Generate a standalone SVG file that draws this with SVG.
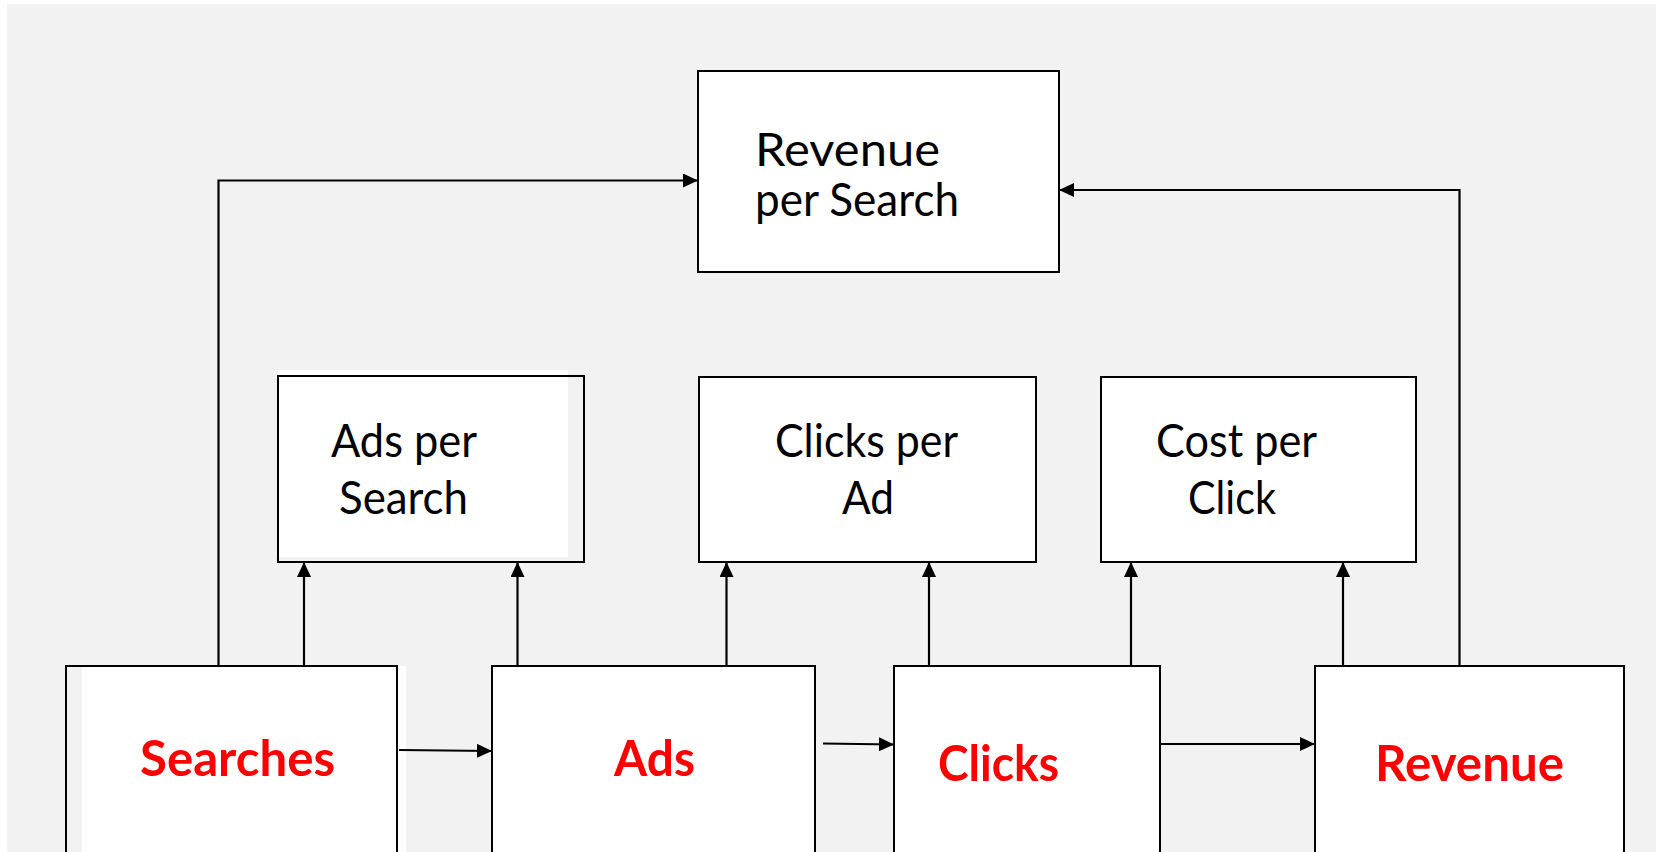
<svg xmlns="http://www.w3.org/2000/svg" width="1656" height="852" viewBox="0 0 1656 852">
  <style>
    .box { fill: #ffffff; stroke: #000000; stroke-width: 2; }
    .frame { fill: none; stroke: #000000; stroke-width: 2; }
    .link { fill: none; stroke: #000000; stroke-width: 2.2; marker-end: url(#arrow); }
    .label { font-family: Lato, "Open Sans", sans-serif; font-size: 46px; fill: #000000; }
    .key { font-family: Lato, "Open Sans", sans-serif; font-size: 50px; font-weight: bold; fill: #ff0000; }
  </style>
  <defs>
    <marker id="arrow" markerUnits="userSpaceOnUse" markerWidth="16" markerHeight="14" refX="15" refY="7" orient="auto">
      <path d="M0,0 L15,7 L0,14 Z" fill="#000000"/>
    </marker>
  </defs>

  <!-- canvas -->
  <rect x="0" y="0" width="1656" height="852" fill="#ffffff"/>
  <rect x="7" y="4" width="1649" height="848" fill="#f2f2f2"/>

  <!-- top-level ratio -->
  <g id="revenue-per-search">
    <rect class="box" x="698" y="71" width="361" height="201"/>
    <text class="label" x="755" y="166" textLength="185" lengthAdjust="spacingAndGlyphs">Revenue</text>
    <text class="label" x="755" y="216" textLength="204" lengthAdjust="spacingAndGlyphs">per Search</text>
  </g>

  <!-- intermediate ratios -->
  <g id="ads-per-search">
    <rect x="278" y="370" width="290" height="187" fill="#ffffff"/>
    <rect class="frame" x="278" y="376" width="306" height="186"/>
    <text class="label" x="331" y="457" textLength="146" lengthAdjust="spacingAndGlyphs">Ads per</text>
    <text class="label" x="339" y="514" textLength="129" lengthAdjust="spacingAndGlyphs">Search</text>
  </g>

  <g id="clicks-per-ad">
    <rect class="box" x="699" y="377" width="337" height="185"/>
    <text class="label" x="775" y="457" textLength="183" lengthAdjust="spacingAndGlyphs">Clicks per</text>
    <text class="label" x="842" y="514" textLength="52" lengthAdjust="spacingAndGlyphs">Ad</text>
  </g>

  <g id="cost-per-click">
    <rect class="box" x="1101" y="377" width="315" height="185"/>
    <text class="label" x="1156" y="457" textLength="161" lengthAdjust="spacingAndGlyphs">Cost per</text>
    <text class="label" x="1188" y="514" textLength="88" lengthAdjust="spacingAndGlyphs">Click</text>
  </g>

  <!-- base quantities -->
  <g id="searches">
    <rect x="82" y="666" width="324" height="200" fill="#ffffff"/>
    <rect class="frame" x="66" y="666" width="331" height="200"/>
    <text class="key" x="140" y="776" textLength="195" lengthAdjust="spacingAndGlyphs">Searches</text>
  </g>

  <g id="ads">
    <rect class="box" x="492" y="666" width="323" height="200"/>
    <text class="key" x="614" y="776" textLength="81" lengthAdjust="spacingAndGlyphs">Ads</text>
  </g>

  <g id="clicks">
    <rect class="box" x="894" y="666" width="266" height="200"/>
    <text class="key" x="938" y="781" textLength="121" lengthAdjust="spacingAndGlyphs">Clicks</text>
  </g>

  <g id="revenue">
    <rect class="box" x="1315" y="666" width="309" height="200"/>
    <text class="key" x="1375" y="781" textLength="189" lengthAdjust="spacingAndGlyphs">Revenue</text>
  </g>

  <!-- connectors -->
  <g id="connectors">
    <path class="link" d="M399,750 L492,751"/>
    <path class="link" d="M823,743.5 L894,744.5"/>
    <path class="link" d="M1160,744 L1315,744"/>

    <path class="link" d="M218.5,666 L218.5,180.5 L698,180.5"/>
    <path class="link" d="M1459.5,666 L1459.5,190 L1059,190"/>

    <path class="link" d="M304,666 L304,562"/>
    <path class="link" d="M517.5,666 L517.5,562"/>
    <path class="link" d="M726.5,666 L726.5,562"/>
    <path class="link" d="M929,666 L929,562"/>
    <path class="link" d="M1131,666 L1131,562"/>
    <path class="link" d="M1343,666 L1343,562"/>
  </g>
</svg>
